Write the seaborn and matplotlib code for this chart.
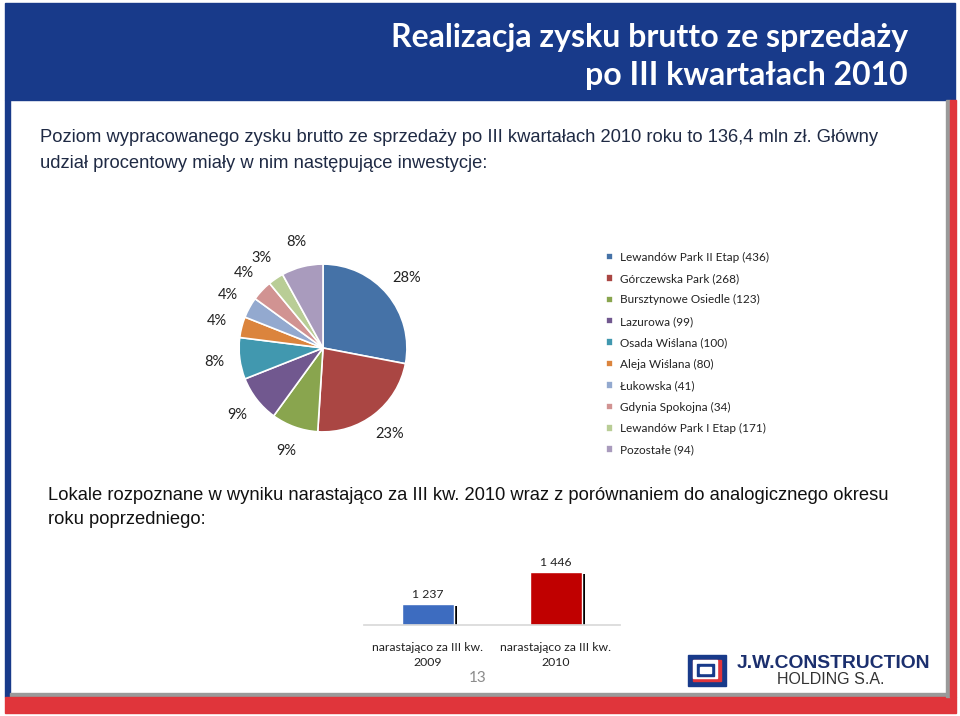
import matplotlib
matplotlib.use("Agg")
import matplotlib.pyplot as plt
import matplotlib.patheffects as pe
from matplotlib.patches import Rectangle
import seaborn as sns

# pie data (share of gross profit, %)
investments = ["Lewandów Park II Etap (436)", "Górczewska Park (268)", "Bursztynowe Osiedle (123)",
               "Lazurowa (99)", "Osada Wiślana (100)", "Aleja Wiślana (80)", "Łukowska (41)",
               "Gdynia Spokojna (34)", "Lewandów Park I Etap (171)", "Pozostałe (94)"]
shares = [28, 23, 9, 9, 8, 4, 4, 4, 3, 8]
pie_colors = ["#4572A7", "#AA4643", "#89A54E", "#71588F", "#4198AF",
              "#DB843D", "#93A9CF", "#D19392", "#B9CD96", "#A99BBD"]

# bar data (units recognised)
periods = ["narastająco za III kw.\n2009", "narastająco za III kw.\n2010"]
units = [1237, 1446]
bar_colors = ["#3D6CC0", "#C00000"]

sns.set_theme(style="white")
plt.rcParams['font.family'] = ['Lato', 'DejaVu Sans']

fig = plt.figure(figsize=(9.6, 7.16), dpi=100)

# slide background / frame drawn in pixel coordinates
bg = fig.add_axes([0, 0, 1, 1])
bg.set_xlim(0, 960)
bg.set_ylim(716, 0)
bg.axis("off")
navy = "#183A8A"
bg.add_patch(Rectangle((5, 3), 950, 97, color=navy))
bg.add_patch(Rectangle((5, 100), 5, 597, color=navy))
bg.add_patch(Rectangle((10, 693), 945, 4, color="#9A9A9A"))
bg.add_patch(Rectangle((5, 697), 951, 16, color="#E0353B"))
bg.add_patch(Rectangle((946, 100), 4, 597, color="#9A9A9A"))
bg.add_patch(Rectangle((950, 100), 6, 597, color="#E0353B"))

bg.text(908, 37, "Realizacja zysku brutto ze sprzedaży", color="white", fontsize=23,
        fontweight="bold", ha="right", va="center")
bg.text(908, 76, "po III kwartałach 2010", color="white", fontsize=23,
        fontweight="bold", ha="right", va="center")

bg.text(40, 137, "Poziom wypracowanego zysku brutto ze sprzedaży po III kwartałach 2010 roku to 136,4 mln zł. Główny",
        family="Liberation Sans", fontsize=13.2, color="#1F2A44", va="center")
bg.text(40, 163, "udział procentowy miały w nim następujące inwestycje:",
        family="Liberation Sans", fontsize=13.2, color="#1F2A44", va="center")
bg.text(48, 496, "Lokale rozpoznane w wyniku narastająco za III kw. 2010 wraz z porównaniem do analogicznego okresu",
        family="Liberation Sans", fontsize=13.2, color="#111111", va="center")
bg.text(48, 520, "roku poprzedniego:", family="Liberation Sans", fontsize=13.2,
        color="#111111", va="center")

bg.text(478, 678, "13", color="#8C8C8C", fontsize=11, ha="center", va="center")

# logo
bg.add_patch(Rectangle((688, 655), 38, 31, color=navy))
bg.add_patch(Rectangle((693, 660), 28, 21, color="#E0353B"))
bg.add_patch(Rectangle((693, 660), 24, 18, color="white"))
bg.add_patch(Rectangle((697, 664), 17, 12, color=navy))
bg.add_patch(Rectangle((700, 667), 11, 6, color="white"))
bg.text(737, 664, "J.W.CONSTRUCTION", family="Liberation Sans", fontweight="bold",
        fontsize=13.9, color="#1B2F6E", va="center")
bg.text(777, 680, "HOLDING S.A.", family="Liberation Sans", fontsize=11.5,
        color="#333333", va="center")

# pie
ax_pie = fig.add_axes([(323 - 120) / 960, (716 - 348 - 120) / 716, 240 / 960, 240 / 716])
wedges, _, autotexts = ax_pie.pie(shares, colors=pie_colors, startangle=90, counterclock=False,
                                  autopct="%.0f%%", pctdistance=1.3,
                                  wedgeprops=dict(edgecolor="white", linewidth=1.2),
                                  textprops=dict(fontsize=10.5, color="#222222"))
ax_pie.set_xlim(-1.43, 1.43)
ax_pie.set_ylim(-1.43, 1.43)
ax_pie.set_aspect("equal")

fig.legend(wedges, investments, loc="upper left", bbox_to_anchor=(595 / 960, 1 - 241 / 716),
           frameon=False, fontsize=8.5, labelspacing=0.88, handlelength=0.6, handleheight=0.6,
           handletextpad=0.6, labelcolor="#222222")

# bars
ax_bar = fig.add_axes([364 / 960, (716 - 625) / 716, 256 / 960, 77 / 716])
sns.barplot(x=periods, y=units, hue=periods, palette=bar_colors, width=0.41,
            legend=False, ax=ax_bar, saturation=1)
for c in ax_bar.containers:
    for p in c:
        p.set_path_effects([pe.SimplePatchShadow(offset=(2.2, -1.5), shadow_rgbFace="black", alpha=1),
                            pe.Normal()])
for c, v in zip(ax_bar.containers, units):
    ax_bar.bar_label(c, labels=[f"{v:,}".replace(",", " ")], padding=3, fontsize=8.8, color="#222222")
ax_bar.set_ylim(1100, 1600)
ax_bar.set_xlim(-0.5, 1.5)
ax_bar.set_yticks([])
for s in ["top", "left", "right"]:
    ax_bar.spines[s].set_visible(False)
ax_bar.spines["bottom"].set_color("#D9D9D9")
ax_bar.tick_params(axis="x", length=0, pad=12, labelsize=8.8, labelcolor="#222222")
for t in ax_bar.get_xticklabels():
    t.set_linespacing(1.5)
ax_bar.set_xlabel("")
ax_bar.set_ylabel("")
ax_bar.patch.set_alpha(0)

fig.savefig("out.png", dpi=100)
